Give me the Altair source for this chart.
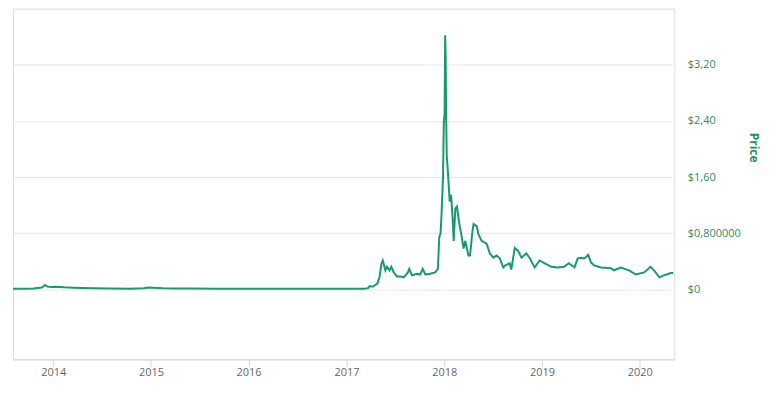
import altair as alt
import pandas as pd

dates = [
    "2013-08-04", "2013-09-15", "2013-10-20", "2013-11-20", "2013-12-02", "2013-12-10",
    "2013-12-25", "2014-01-10", "2014-02-10", "2014-03-15", "2014-04-20", "2014-06-01",
    "2014-08-01", "2014-10-15", "2014-12-05", "2014-12-22", "2015-01-06", "2015-02-15",
    "2015-04-01", "2015-06-01", "2015-09-01", "2015-12-01", "2016-03-01", "2016-06-01",
    "2016-09-01", "2016-12-01", "2017-02-01", "2017-03-10", "2017-03-22", "2017-03-28",
    "2017-04-08", "2017-04-26", "2017-05-04", "2017-05-11", "2017-05-16", "2017-05-21",
    "2017-05-26", "2017-06-01", "2017-06-10", "2017-06-17", "2017-06-26", "2017-07-08",
    "2017-07-21", "2017-08-02", "2017-08-18", "2017-08-23", "2017-09-02", "2017-09-21",
    "2017-10-03", "2017-10-12", "2017-10-22", "2017-11-09", "2017-11-28", "2017-12-08",
    "2017-12-13", "2017-12-18", "2017-12-22", "2017-12-27", "2017-12-30", "2018-01-02",
    "2018-01-04", "2018-01-06", "2018-01-08", "2018-01-10", "2018-01-15", "2018-01-21",
    "2018-01-26", "2018-02-01", "2018-02-05", "2018-02-11", "2018-02-17", "2018-02-26",
    "2018-03-05", "2018-03-14", "2018-03-20", "2018-04-01", "2018-04-07", "2018-04-16",
    "2018-04-20", "2018-05-02", "2018-05-08", "2018-05-20", "2018-06-08", "2018-06-20",
    "2018-07-03", "2018-07-15", "2018-07-27", "2018-08-09", "2018-08-17", "2018-09-02",
    "2018-09-08", "2018-09-21", "2018-10-03", "2018-10-16", "2018-11-03", "2018-11-15",
    "2018-12-04", "2018-12-23", "2019-01-11", "2019-02-05", "2019-02-28", "2019-03-24",
    "2019-04-11", "2019-05-02", "2019-05-14", "2019-05-27", "2019-06-08", "2019-06-22",
    "2019-07-03", "2019-07-15", "2019-08-09", "2019-09-15", "2019-09-27", "2019-10-22",
    "2019-11-22", "2019-12-17", "2020-01-17", "2020-02-10", "2020-02-23", "2020-03-14",
    "2020-04-01", "2020-04-26", "2020-05-05",
]
prices = [
    0.006, 0.007, 0.010, 0.025, 0.060, 0.038,
    0.030, 0.035, 0.027, 0.022, 0.018, 0.013,
    0.009, 0.007, 0.013, 0.024, 0.022, 0.014,
    0.010, 0.009, 0.007, 0.006, 0.007, 0.006,
    0.007, 0.007, 0.007, 0.008, 0.015, 0.045,
    0.035, 0.080, 0.175, 0.360, 0.410, 0.340,
    0.270, 0.320, 0.270, 0.320, 0.240, 0.180,
    0.180, 0.170, 0.240, 0.290, 0.200, 0.220,
    0.210, 0.290, 0.210, 0.220, 0.240, 0.290,
    0.740, 0.800, 1.110, 1.600, 2.380, 2.500,
    3.620, 3.300, 2.400, 1.900, 1.630, 1.250,
    1.350, 1.010, 0.690, 1.150, 1.180, 0.930,
    0.790, 0.580, 0.690, 0.480, 0.480, 0.830,
    0.930, 0.900, 0.790, 0.690, 0.650, 0.510,
    0.450, 0.480, 0.440, 0.310, 0.340, 0.370,
    0.280, 0.590, 0.550, 0.450, 0.510, 0.450,
    0.310, 0.410, 0.370, 0.320, 0.310, 0.320,
    0.370, 0.310, 0.440, 0.450, 0.440, 0.490,
    0.380, 0.340, 0.310, 0.300, 0.270, 0.310,
    0.270, 0.210, 0.240, 0.320, 0.270, 0.170,
    0.200, 0.230, 0.230,
]

tick_values = [0, 0.8, 1.6, 2.4, 3.2, 4.0]
tick_labels = ["$0", "$0,800000", "$1,60", "$2,40", "$3,20", ""]

df = pd.DataFrame({"date": pd.to_datetime(dates), "price": prices})

label_expr = " : ".join(
    f"abs(datum.value - {v}) < 0.001 ? '{t}'" for v, t in zip(tick_values, tick_labels)
) + " : ''"

GREEN = "#169b6e"
LABEL_GREEN = "#2a8c67"

chart = alt.Chart(df).mark_line(color=GREEN, strokeWidth=2).encode(
    x=alt.X(
        "date:T",
        title=None,
        scale=alt.Scale(domain=[alt.DateTime(year=2013, month=8, date=4),
                                alt.DateTime(year=2020, month=5, date=9)]),
        axis=alt.Axis(
            format="%Y",
            tickCount={"interval": "year", "step": 1},
            grid=False,
            domainColor="#ccd6eb",
            tickColor="#ccd6eb",
            tickSize=7,
            labelPadding=0,
            labelColor="#666666",
            labelFont="Open Sans",
            labelFontSize=11,
            labelFlush=False,
        ),
    ),
    y=alt.Y(
        "price:Q",
        scale=alt.Scale(domain=[-1.0, 4.0], nice=False, zero=False),
        axis=alt.Axis(
            orient="right",
            values=tick_values,
            labelExpr=label_expr,
            domain=False,
            ticks=False,
            gridColor="#e6e6e6",
            labelColor=LABEL_GREEN,
            labelFont="Open Sans",
            labelFontSize=11,
            labelPadding=13,
            title="Price",
            titleColor=LABEL_GREEN,
            titleFont="Open Sans",
            titleFontSize=12,
            titleFontWeight="bold",
            titleAngle=90,
            titlePadding=6,
            titleY=139,
        ),
    ),
).properties(
    width=664,
    height=352,
    padding={"left": 1, "top": 0, "right": 3, "bottom": 0},
).configure_view(stroke=None).configure(background="white")

chart.save("out.html", embed_options={"renderer": "svg", "actions": False})
